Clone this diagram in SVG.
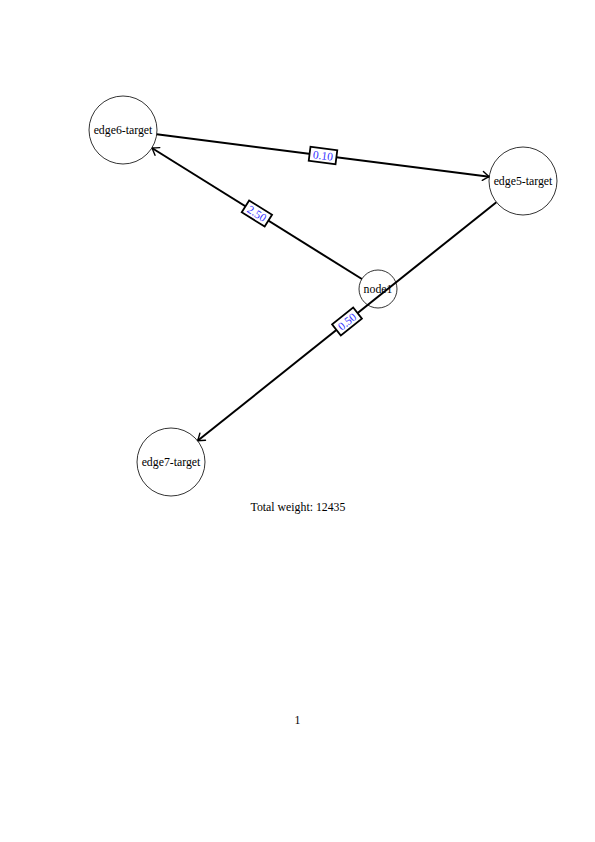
<svg xmlns="http://www.w3.org/2000/svg" width="595" height="842" viewBox="0 0 595 842">
<defs>
<marker id="arr" markerUnits="userSpaceOnUse" markerWidth="14" markerHeight="14" viewBox="-8 -7 10 14" refX="0" refY="0" orient="auto">
<path d="M-6.5,-4.5 Q-2.5,-1.5 0,0 Q-2.5,1.5 -6.5,4.5" fill="none" stroke="#000" stroke-width="1.4" stroke-linecap="round"/>
</marker>
<style>
.node circle{fill:#fff;stroke:#000;stroke-width:0.8}
.node text{font-family:"Liberation Serif","DejaVu Serif",serif;font-size:11.8px;text-anchor:middle;fill:#000}
.edge{stroke:#000;stroke-width:2;fill:none}
.lbl rect{fill:#fff;stroke:#000;stroke-width:1.8}
.lbl text{font-family:"Liberation Serif","DejaVu Serif",serif;font-size:11.5px;text-anchor:middle;fill:#3333ff}
.plain{font-family:"Liberation Serif","DejaVu Serif",serif;font-size:11.8px;text-anchor:middle;fill:#000}
</style>
</defs>
<rect width="595" height="842" fill="#fff"/>
<g id="connectors">
<line class="edge" x1="156.7" y1="134.3" x2="489.3" y2="176.7" marker-end="url(#arr)"/>
<line class="edge" x1="361.9" y1="279" x2="151.9" y2="148" marker-end="url(#arr)"/>
<line class="edge" x1="496.4" y1="202.2" x2="197.6" y2="440.8" marker-end="url(#arr)"/>
</g>
<g id="node-edge6-target" class="node"><circle cx="123" cy="130" r="34"/><text x="123" y="134">edge6-target</text></g>
<g id="node-edge5-target" class="node"><circle cx="523" cy="181" r="34"/><text x="523" y="185">edge5-target</text></g>
<g id="node-node1" class="node"><circle cx="378" cy="289" r="19" style="fill:none"/><text x="378" y="293">node1</text></g>
<g id="node-edge7-target" class="node"><circle cx="171" cy="462" r="34"/><text x="171" y="466">edge7-target</text></g>
<g id="labels">
<g class="lbl" transform="translate(323,155.5) rotate(7.27)"><rect x="-13.5" y="-7" width="27" height="14"/><text x="0" y="4">0.10</text></g>
<g class="lbl" transform="translate(256.9,213.5) rotate(31.9)"><rect x="-13.5" y="-7" width="27" height="14"/><text x="0" y="4">2.50</text></g>
<g class="lbl" transform="translate(347,321.5) rotate(-38.6)"><rect x="-13.5" y="-7" width="27" height="14"/><text x="0" y="4">0.50</text></g>
</g>
<text class="plain" x="298" y="511">Total weight: 12435</text>
<text class="plain" x="297.5" y="724">1</text>
</svg>
